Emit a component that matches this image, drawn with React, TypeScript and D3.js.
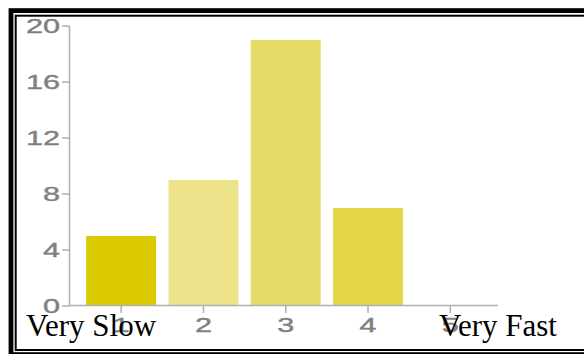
import React from "react";
import * as d3 from "d3";

const categories = ["1", "2", "3", "4", "5"];
const counts = [5, 9, 19, 7, 0];
const barColors = ["#dccb00", "#ece38a", "#e6db66", "#e3d647", "#e3d647"];
const yTicks = [0, 4, 8, 12, 16, 20];
const endLabels = ["Very Slow", "Very Fast"];

const serif = "'Liberation Serif', 'Times New Roman', 'DejaVu Serif', serif";
const sans = "'Liberation Sans', Arial, sans-serif";

export default function App() {
  const x = d3.scaleBand<string>().domain(categories).range([80, 491.5]).paddingInner(0.15).paddingOuter(0.075);
  const y = d3.scaleLinear().domain([0, 20]).range([306, 26]);
  const axisColor = "#b0b0b0";
  const labelColor = "#808080";
  return (
    <svg width={584} height={354} style={{ position: "absolute", left: 0, top: 0, background: "#fff" }}>
      <rect x={11} y={10.6} width={620} height={344} fill="none" stroke="#000" strokeWidth={4.8} />
      <rect x={15.7} y={15.7} width={620} height={334.3} fill="none" stroke="#000" strokeWidth={2} />
      {categories.map((c, i) => (
        <rect key={c} x={x(c)} y={y(counts[i])} width={x.bandwidth()} height={y(0) - y(counts[i])} fill={barColors[i]} />
      ))}
      <line x1={69.5} x2={69.5} y1={y(20)} y2={y(0)} stroke={axisColor} strokeWidth={1.5} />
      <line x1={69} x2={498} y1={305.5} y2={305.5} stroke={axisColor} strokeWidth={1.5} />
      {yTicks.map((t) => (
        <g key={t}>
          <line x1={62} x2={69.5} y1={y(t)} y2={y(t)} stroke={axisColor} strokeWidth={1.5} />
          <text
            x={60}
            y={y(t)}
            dy="0.36em"
            textAnchor="end"
            fontFamily={sans}
            fontSize={20}
            fill={labelColor}
            stroke={labelColor}
            strokeWidth={0.4}
            textLength={String(t).length * 17}
            lengthAdjust="spacingAndGlyphs"
          >
            {t}
          </text>
        </g>
      ))}
      {categories.map((c) => {
        const cx = (x(c) as number) + x.bandwidth() / 2;
        return (
          <g key={c}>
            <line x1={cx} x2={cx} y1={306} y2={313} stroke={axisColor} strokeWidth={1.5} />
            <text
              x={cx}
              y={332}
              textAnchor="middle"
              fontFamily={sans}
              fontSize={20}
              fill={labelColor}
              stroke={labelColor}
              strokeWidth={0.4}
              textLength={17}
              lengthAdjust="spacingAndGlyphs"
            >
              {c}
            </text>
          </g>
        );
      })}
      <text x={26} y={336} fontFamily={serif} fontSize={31} fill="#000">
        {endLabels[0]}
      </text>
      <text x={439} y={336} fontFamily={serif} fontSize={31} fill="#000">
        {endLabels[1]}
      </text>
    </svg>
  );
}
